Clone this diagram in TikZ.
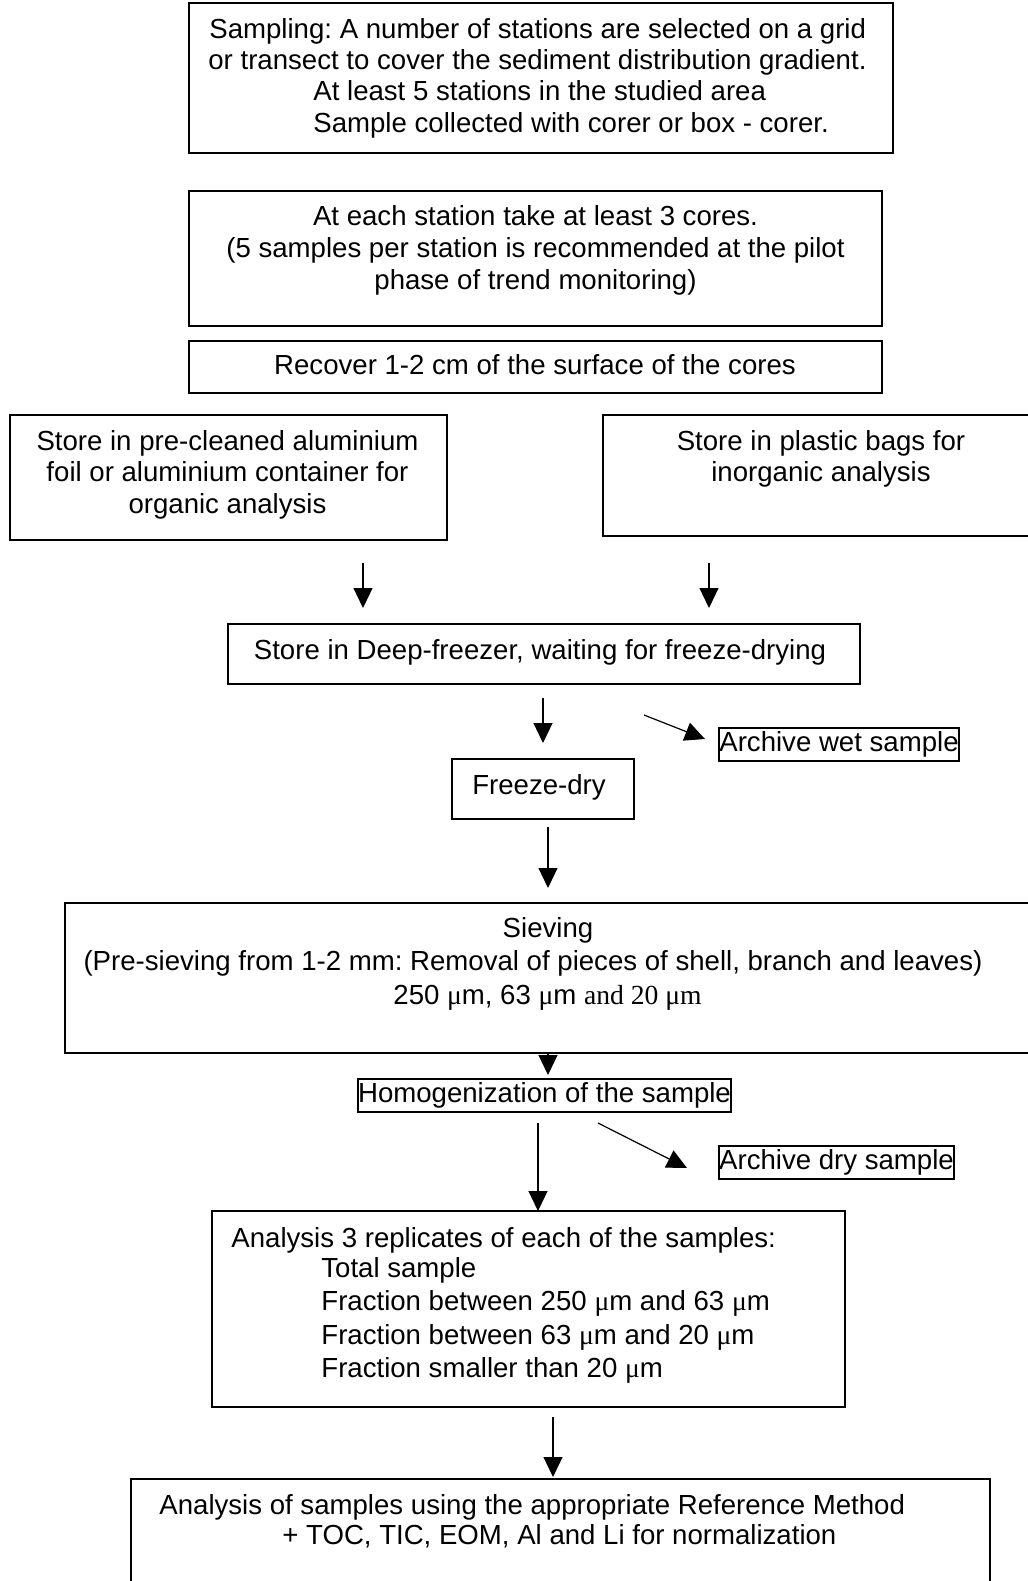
\documentclass[tikz,border=0pt]{standalone}
\usepackage{fontspec}
\setmainfont{Liberation Sans}
\newfontfamily\serifmu{Liberation Serif}
\usetikzlibrary{arrows.meta}
\newcommand{\um}{{\serifmu μ}m}
\frenchspacing
\begin{document}
\begin{tikzpicture}[x=0.5pt,y=-0.5pt,
  box/.style={draw, line width=0.9pt, inner sep=0pt},
  tbox/.style={draw, line width=0.8pt, inner sep=0pt, font=\fontsize{13.8}{16}\selectfont},
  txt/.style={inner sep=0pt, yshift=-1.3pt, font=\fontsize{13.8}{16}\selectfont},
  arr/.style={-{Triangle[length=10pt,width=9.5pt]}, line width=0.6pt}]
\useasboundingbox (0,0) rectangle (1028,1581);
\clip (0,0) rectangle (1028,1581);
% boxes
\node[box, minimum width=352pt, minimum height=75pt] (b1) at (541,78) {};
\node[box, minimum width=346.5pt, minimum height=67.5pt] (b2) at (535.5,258.5) {};
\node[box, minimum width=346.5pt, minimum height=26pt] (b3) at (535.5,367) {};
\node[box, minimum width=218.5pt, minimum height=62.5pt] (b4) at (228.5,477.5) {};
\node[box, minimum width=218pt, minimum height=60.5pt] (b5) at (821,475.5) {};
\node[box, minimum width=316pt, minimum height=30pt] (b6) at (544,654) {};
\node[tbox, minimum width=120pt, minimum height=16.5pt] (b7) at (839,744.5) {Archive wet sample};
\node[box, minimum width=91pt, minimum height=30pt] (b8) at (543,789) {};
\node[box, minimum width=483pt, minimum height=75pt] (b9) at (548,978) {};
\node[tbox, minimum width=186.5pt, minimum height=16.5pt] (b10) at (544.5,1095.5) {Homogenization of the sample};
\node[tbox, minimum width=117.5pt, minimum height=16.5pt] (b11) at (836.5,1162.5) {Archive dry sample};
\node[box, minimum width=316.5pt, minimum height=98pt] (b12) at (528.5,1309) {};
\node[box, minimum width=429.5pt, minimum height=60.5pt] (b13) at (560.5,1539.5) {};
% texts
\node[txt, anchor=mid west] (t1a) at (209,31) {Sampling: A number of stations are selected on a grid};
\node[txt, anchor=mid west] (t1b) at (208,62) {or transect to cover the sediment distribution gradient.};
\node[txt, anchor=mid west] (t1c) at (313,93) {At least 5 stations in the studied area};
\node[txt, anchor=mid west] (t1d) at (313,125) {Sample collected with corer or box - corer.};
\node[txt, anchor=mid] (t2a) at (535.5,218) {At each station take at least 3 cores.};
\node[txt, anchor=mid] (t2b) at (535.5,250) {(5 samples per station is recommended at the pilot};
\node[txt, anchor=mid] (t2c) at (535.5,282) {phase of trend monitoring)};
\node[txt, anchor=mid] (t3) at (535,367) {Recover 1-2 cm of the surface of the cores};
\node[txt, anchor=mid] (t4a) at (227.5,443) {Store in pre-cleaned aluminium};
\node[txt, anchor=mid] (t4b) at (227.5,474) {foil or aluminium container for};
\node[txt, anchor=mid] (t4c) at (227.5,506) {organic analysis};
\node[txt, anchor=mid] (t5a) at (821,443) {Store in plastic bags for};
\node[txt, anchor=mid] (t5b) at (821,474) {inorganic analysis};
\node[txt, anchor=mid] (t6) at (540,652) {Store in Deep-freezer, waiting for freeze-drying};
\node[txt, anchor=mid] (t8) at (539,787) {Freeze-dry};
\node[txt, anchor=mid] (t9a) at (548,930) {Sieving};
\node[txt, anchor=mid] (t9b) at (533,963) {(Pre-sieving from 1-2 mm: Removal of pieces of shell, branch and leaves)};
\node[txt, anchor=mid] (t9c) at (547.5,997) {250 \um, 63 \um{} {\serifmu and 20 μm}};
\node[txt, anchor=mid west] (t12a) at (231,1240) {Analysis 3 replicates of each of the samples:};
\node[txt, anchor=mid west] (t12b) at (321,1270) {Total sample};
\node[txt, anchor=mid west] (t12c) at (321,1303) {Fraction between 250 \um{} and 63 \um};
\node[txt, anchor=mid west] (t12d) at (321,1337) {Fraction between 63 \um{} and 20 \um};
\node[txt, anchor=mid west] (t12e) at (321,1370) {Fraction smaller than 20 \um};
\node[txt, anchor=mid west] (t13a) at (159,1507) {Analysis of samples using the appropriate Reference Method};
\node[txt, anchor=mid west] (t13b) at (282,1537) {+ TOC, TIC, EOM, Al and Li for normalization};
% arrow end points
\coordinate (a1s) at (363,563); \coordinate (a1e) at (363,608);
\coordinate (a2s) at (709,563); \coordinate (a2e) at (709,608);
\coordinate (a3s) at (543,698); \coordinate (a3e) at (543,743);
\coordinate (a4s) at (644,715); \coordinate (a4e) at (705,739);
\coordinate (a5s) at (548,827); \coordinate (a5e) at (548,888);
\coordinate (a6s) at (548,1053); \coordinate (a6e) at (548,1075);
\coordinate (a7s) at (538,1123); \coordinate (a7e) at (538,1211);
\coordinate (a8s) at (598,1123); \coordinate (a8e) at (687,1168);
\coordinate (a9s) at (553,1417); \coordinate (a9e) at (553,1477);
\draw[arr] (a1s) -- (a1e);
\draw[arr] (a2s) -- (a2e);
\draw[arr] (a3s) -- (a3e);
\draw[arr] (a4s) -- (a4e);
\draw[arr] (a5s) -- (a5e);
\draw[arr] (a6s) -- (a6e);
\draw[arr] (a7s) -- (a7e);
\draw[arr] (a8s) -- (a8e);
\draw[arr] (a9s) -- (a9e);
\end{tikzpicture}
\end{document}
